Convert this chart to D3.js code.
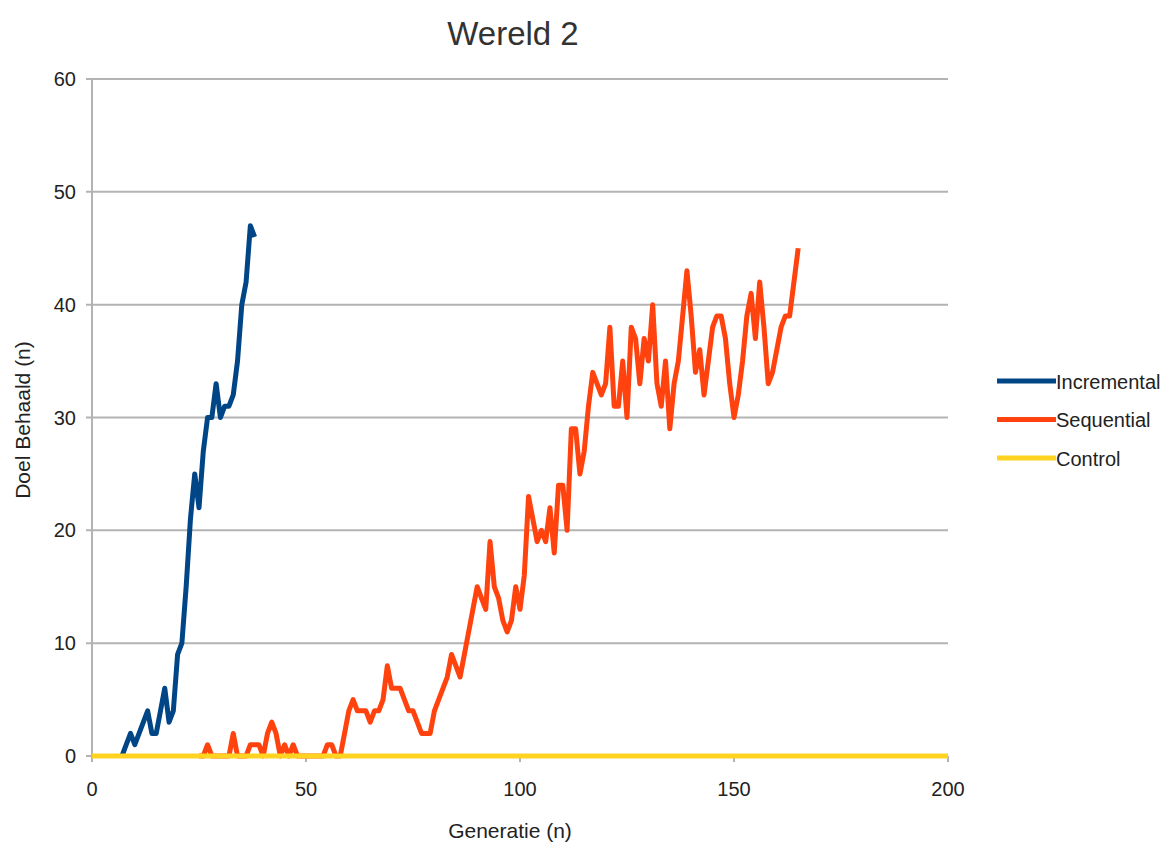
<!DOCTYPE html>
<html lang="en">
<head>
  <meta charset="utf-8">
  <title>Wereld 2</title>
  <script src="https://d3js.org/d3.v7.min.js"></script>
  <style>
  body{ margin:0; background:#fff; }
  text{ font-family:"Liberation Sans", Arial, sans-serif; fill:#222; }
  </style>
</head>
<body>
  <script>
  // generations and values
  var incrementalStart = 7;
  var incremental = [0,1,2,1,2,3,4,2,2,4,6,3,4,9,10,15,21,25,22,27,30,30,33,30,31,31,32,35,40,42,47,46];

  var sequentialStart = 25;
  var sequential = [0,0,1,0,0,0,0,0,2,0,0,0,1,1,1,0,2,3,2,0,1,0,1,0,
    0,0,0,0,0,0,1,1,0,0,2,4,5,4,4,4,3,4,4,5,8,6,6,6,5,4,4,3,2,2,2,
    4,5,6,7,9,8,7,9,11,13,15,14,13,19,15,14,12,11,12,15,13,16,23,21,19,20,19,22,18,24,24,20,
    29,29,25,27,31,34,33,32,33,38,31,31,35,30,38,37,33,37,35,40,33,31,35,29,33,35,39,43,
    39,34,36,32,35,38,39,39,37,33,30,32,35,39,41,37,42,38,33,34,36,38,39,39,42,45];

  var controlGens = [0,200];
  var control = [0,0];

  var seriesNames = ["Incremental","Sequential","Control"];
  var seriesColors = ["#004586","#ff420e","#ffd320"];
  var yTicks = [0,10,20,30,40,50,60];
  var xTicks = [0,50,100,150,200];

  var width = 1171, height = 844;
  var svg = d3.select("body").append("svg")
    .attr("width", width).attr("height", height);

  var x = d3.scaleLinear().domain([0,200]).range([92,948]);
  var y = d3.scaleLinear().domain([0,60]).range([756,79]);

  // grid
  svg.append("g").selectAll("line")
    .data(yTicks).enter().append("line")
    .attr("x1", 86).attr("x2", 948)
    .attr("y1", function(d){ return y(d); }).attr("y2", function(d){ return y(d); })
    .attr("stroke", "#b3b3b3").attr("stroke-width", 2);

  // axes
  svg.append("line").attr("x1", 92).attr("x2", 92).attr("y1", 79).attr("y2", 762)
    .attr("stroke", "#b3b3b3").attr("stroke-width", 2);
  svg.append("g").selectAll("line")
    .data(xTicks).enter().append("line")
    .attr("x1", function(d){ return x(d); }).attr("x2", function(d){ return x(d); })
    .attr("y1", 756).attr("y2", 762)
    .attr("stroke", "#b3b3b3").attr("stroke-width", 2);

  svg.append("g").selectAll("text")
    .data(yTicks).enter().append("text")
    .attr("x", 76).attr("y", function(d){ return y(d) + 7; })
    .attr("text-anchor", "end").style("font-size", "20px")
    .text(function(d){ return d; });

  svg.append("g").selectAll("text")
    .data(xTicks).enter().append("text")
    .attr("x", function(d){ return x(d); }).attr("y", 796)
    .attr("text-anchor", "middle").style("font-size", "20px")
    .text(function(d){ return d; });

  // titles
  svg.append("text").attr("x", 513).attr("y", 45)
    .attr("text-anchor", "middle").style("font-size", "33px").style("fill", "#333")
    .text("Wereld 2");
  svg.append("text").attr("x", 510).attr("y", 838)
    .attr("text-anchor", "middle").style("font-size", "21px")
    .text("Generatie (n)");
  svg.append("text").attr("transform", "translate(30,420) rotate(-90)")
    .attr("text-anchor", "middle").style("font-size", "21px")
    .text("Doel Behaald (n)");

  // lines
  var line = d3.line()
    .x(function(d){ return x(d[0]); })
    .y(function(d){ return y(d[1]); });

  var data = [
    incremental.map(function(v,i){ return [incrementalStart + i, v]; }),
    sequential.map(function(v,i){ return [sequentialStart + i, v]; }),
    control.map(function(v,i){ return [controlGens[i], v]; })
  ];

  svg.append("g").selectAll("path")
    .data([0,1,2]).enter().append("path")
    .attr("d", function(i){ return line(data[i]); })
    .attr("fill", "none")
    .attr("stroke", function(i){ return seriesColors[i]; })
    .attr("stroke-width", 5)
    .attr("stroke-linejoin", "round");

  // legend
  var legend = svg.append("g").selectAll("g")
    .data(seriesNames).enter().append("g")
    .attr("transform", function(d,i){ return "translate(997," + (381 + i*38.5) + ")"; });
  legend.append("line").attr("x1", 0).attr("x2", 59)
    .attr("stroke", function(d,i){ return seriesColors[i]; })
    .attr("stroke-width", 5);
  legend.append("text").attr("x", 59).attr("y", 7.5)
    .style("font-size", "20px")
    .text(function(d){ return d; });
  </script>
</body>
</html>
